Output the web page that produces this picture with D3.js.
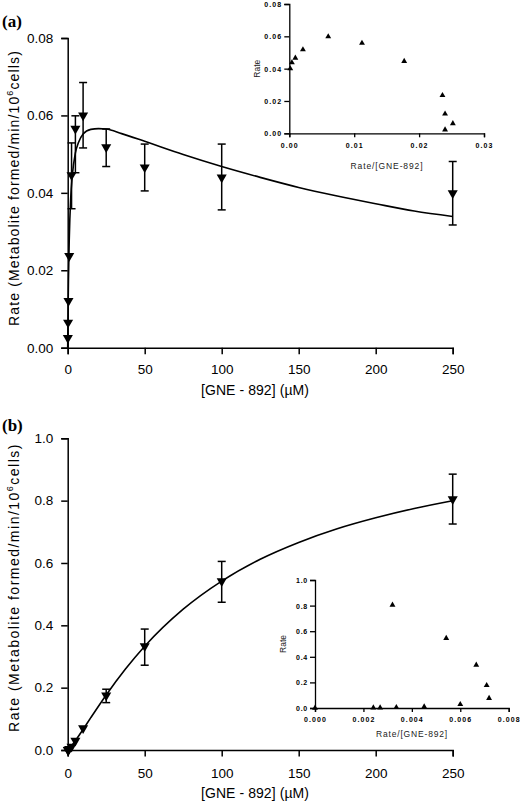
<!DOCTYPE html>
<html><head><meta charset="utf-8">
<script src="https://cdn.jsdelivr.net/npm/d3@7"></script>
<style>body{margin:0;background:#fff} svg{display:block}</style>
</head><body><svg id="c" width="520" height="803"></svg>
<script>
// ---------- data ----------
const conc = [0.1, 0.25, 0.5, 1, 2.5, 5, 10, 25, 50, 100, 250];
// panel (a)
const rateA   = [0.0025, 0.0065, 0.0121, 0.0237, 0.0446, 0.0566, 0.0600, 0.0518, 0.0466, 0.0440, 0.0399];
const errLoA  = [null, null, null, null, 0.0359, 0.0452, 0.0516, 0.0468, 0.0405, 0.0356, 0.0317];
const errHiA  = [null, null, null, null, 0.0529, 0.0599, 0.0685, 0.0565, 0.0526, 0.0526, 0.0481];
const fitAx   = [0, 0.1, 0.25, 0.5, 1, 2, 3, 5, 7, 10, 15, 20, 25, 35, 50, 75, 100, 125, 150, 175, 200, 225, 250];
const fitAy   = [0, 0.0046, 0.0103, 0.0178, 0.0279, 0.039, 0.0445, 0.0503, 0.053, 0.0552, 0.0564, 0.0566, 0.0565, 0.0553, 0.0533, 0.0499, 0.0468, 0.044, 0.0414, 0.0392, 0.0372, 0.0353, 0.0339];
const insetAx = [0.00015, 0.0004, 0.00093, 0.0021, 0.0060, 0.0112, 0.0177, 0.0236, 0.0240, 0.0252, 0.0240];
const insetAy = [0.040, 0.0437, 0.0466, 0.0518, 0.0598, 0.0558, 0.0446, 0.0235, 0.0120, 0.0061, 0.0022];
// panel (b)
const rateB   = [0.0, 0.0006, 0.0014, 0.0034, 0.011, 0.030, 0.070, 0.175, 0.333, 0.542, 0.805];
const errLoB  = [null, null, null, null, null, null, null, 0.152, 0.272, 0.474, 0.725];
const errHiB  = [null, null, null, null, null, null, null, 0.195, 0.388, 0.605, 0.885];
const fitBx   = [0, 1, 2.5, 5, 10, 15, 25, 37.5, 50, 75, 100, 125, 150, 175, 200, 225, 250];
const fitBy   = [0, 0.0044, 0.0132, 0.0299, 0.0662, 0.1037, 0.1766, 0.2597, 0.333, 0.4518, 0.542, 0.612, 0.666, 0.7098, 0.745, 0.775, 0.80];
const insetBx = [0, 0.00241, 0.00269, 0.00336, 0.00451, 0.0060, 0.00719, 0.00709, 0.00666, 0.00542, 0.0032];
const insetBy = [0, 0.002, 0.002, 0.005, 0.010, 0.029, 0.076, 0.177, 0.336, 0.545, 0.805];
// tick labels
const xTicks = [0, 50, 100, 150, 200, 250];
const yTicksA = [0, 0.02, 0.04, 0.06, 0.08];
const yTicksB = [0, 0.2, 0.4, 0.6, 0.8, 1.0];
const insetAxTicks = [0, 0.01, 0.02, 0.03];
const insetAyTicks = [0, 0.02, 0.04, 0.06, 0.08];
const insetBxTicks = [0, 0.002, 0.004, 0.006, 0.008];
const insetByTicks = [0, 0.2, 0.4, 0.6, 0.8, 1.0];
const xTitle = "[GNE - 892] (\u00B5M)";
const insetXTitle = "Rate/[GNE-892]";
const insetYTitle = "Rate";

// ---------- drawing ----------
const svg = d3.select('#c');
const SANS = "'Liberation Sans', Arial, Helvetica, sans-serif";

function fit(sel, target){
  const n = sel.node();
  const len = n.getComputedTextLength();
  const chars = n.textContent.length;
  sel.attr('letter-spacing', ((target - len) / chars).toFixed(2) + 'px');
}

function styleAxis(g, sw, fs, bold){
  g.select('.domain').attr('stroke', '#000').attr('stroke-width', sw);
  g.selectAll('.tick line').attr('stroke', '#000').attr('stroke-width', sw);
  g.selectAll('.tick text').attr('fill', '#000').attr('font-family', SANS)
    .attr('font-size', fs).attr('font-weight', bold ? 'bold' : 'normal');
  g.attr('font-family', null).attr('font-size', null);
}

function mainPanel(o){
  const {x, y, yTicks, yFmt, rate, lo, hi, fx, fy, label, labelY, tickBase, titleBase, yTitleCenter, yTitleLen} = o;
  const gx = svg.append('g').attr('transform', `translate(0,${y(0)})`)
    .call(d3.axisBottom(x).tickValues(xTicks).tickFormat(d3.format('d')).tickSizeOuter(0).tickSize(6.5));
  styleAxis(gx, 1.5, '13.5px', false);
  gx.selectAll('.tick text').attr('dy', 0).attr('y', tickBase - y(0));
  const gy = svg.append('g').attr('transform', `translate(${x(0)},0)`)
    .call(d3.axisLeft(y).tickValues(yTicks).tickFormat(d3.format(yFmt)).tickSizeOuter(0).tickSize(6.5));
  styleAxis(gy, 1.5, '13.5px', false);
  gy.selectAll('.tick text').attr('x', -14.5);

  // fitted curve
  const pts = fx.map((v, i) => [v, fy[i]]);
  svg.append('path').attr('d', d3.line().x(d => x(d[0])).y(d => y(d[1])).curve(d3.curveMonotoneX)(pts))
    .attr('fill', 'none').attr('stroke', '#000').attr('stroke-width', 1.6);

  // error bars
  const eb = svg.append('g').attr('stroke', '#000').attr('stroke-width', 1.5);
  conc.forEach((c, i) => {
    if (lo[i] == null) return;
    const cx = x(c);
    eb.append('line').attr('x1', cx).attr('x2', cx).attr('y1', y(lo[i])).attr('y2', y(hi[i]));
    eb.append('line').attr('x1', cx - 4).attr('x2', cx + 4).attr('y1', y(lo[i])).attr('y2', y(lo[i]));
    eb.append('line').attr('x1', cx - 4).attr('x2', cx + 4).attr('y1', y(hi[i])).attr('y2', y(hi[i]));
  });
  // markers (down triangles)
  const sym = d3.symbol(d3.symbolTriangle, 44);
  svg.append('g').selectAll('path').data(conc).join('path')
    .attr('d', sym).attr('fill', '#000')
    .attr('transform', (c, i) => `translate(${x(c)},${y(rate[i])}) rotate(180)`);

  // titles
  const xt = svg.append('text').attr('x', 255).attr('y', titleBase).attr('text-anchor', 'middle')
    .attr('font-family', SANS).attr('font-size', '14px').text(xTitle);
  fit(xt, 108);
  const yt = svg.append('text').attr('transform', `translate(18.5,${yTitleCenter}) rotate(-90)`)
    .attr('text-anchor', 'middle').attr('font-family', SANS).attr('font-size', '14px');
  yt.append('tspan').text('Rate (Metabolite formed/min/10');
  yt.append('tspan').attr('font-size', '9px').attr('dy', -6).text('6');
  yt.append('tspan').attr('dy', 6).text('cells)');
  fit(yt, yTitleLen);
  svg.append('text').attr('x', 2).attr('y', labelY).attr('font-family', "'Liberation Serif', 'Times New Roman', serif")
    .attr('font-weight', 'bold').attr('font-size', '17px').text(label);
}

function inset(o){
  const {x, y, xt, yt, xFmt, yFmt, xs, ys, xLabBase, xTitleBase, xTitleX, yTitleX, xLabW, yLabW, xTitleW} = o;
  const gx = svg.append('g').attr('transform', `translate(0,${y(0)})`)
    .call(d3.axisBottom(x).tickValues(xt).tickFormat(d3.format(xFmt)).tickSizeOuter(0).tickSize(4));
  styleAxis(gx, 1.3, '7px', true);
  gx.selectAll('.tick text').attr('dy', 0).attr('y', xLabBase - y(0)).each(function(){ fit(d3.select(this), xLabW); });
  const gy = svg.append('g').attr('transform', `translate(${x(0)},0)`)
    .call(d3.axisLeft(y).tickValues(yt).tickFormat(d3.format(yFmt)).tickSizeOuter(0).tickSize(5));
  styleAxis(gy, 1.3, '7px', true);
  gy.selectAll('.tick text').attr('x', -7).attr('dy', '0.35em').each(function(){ fit(d3.select(this), yLabW); });

  const sym = d3.symbol(d3.symbolTriangle, 15);
  svg.append('g').selectAll('path').data(xs).join('path')
    .attr('d', sym).attr('fill', '#000')
    .attr('transform', (v, i) => `translate(${x(v)},${y(ys[i])})`);

  const t = svg.append('text').attr('x', xTitleX).attr('y', xTitleBase).attr('text-anchor', 'middle')
    .attr('font-family', SANS).attr('font-size', '8.5px').attr('fill', '#222').text(insetXTitle);
  fit(t, xTitleW);
  const ymid = (y.range()[0] + y.range()[1]) / 2;
  const r = svg.append('text').attr('transform', `translate(${yTitleX},${ymid}) rotate(-90)`).attr('text-anchor', 'middle')
    .attr('font-family', SANS).attr('font-size', '8.5px').attr('fill', '#222').text(insetYTitle);
  fit(r, 18);
}

// panel (a)
const xA = d3.scaleLinear([0, 250], [67.7, 452.7]);
const yA = d3.scaleLinear([0, 0.08], [347.7, 38]);
mainPanel({x: xA, y: yA, yTicks: yTicksA, yFmt: '.2f', rate: rateA, lo: errLoA, hi: errHiA,
  fx: fitAx, fy: fitAy, label: '(a)', labelY: 27, tickBase: 374.3, titleBase: 395,
  yTitleCenter: 188, yTitleLen: 276});

const xIA = d3.scaleLinear([0, 0.03], [289.3, 484]);
const yIA = d3.scaleLinear([0, 0.08], [133.3, 4]);
inset({x: xIA, y: yIA, xt: insetAxTicks, yt: insetAyTicks, xFmt: '.2f', yFmt: '.2f', xs: insetAx, ys: insetAy,
  xLabBase: 148.5, xTitleBase: 169, xTitleX: 387, yTitleX: 259.5, xLabW: 18, yLabW: 18, xTitleW: 73});

// panel (b)
const xB = d3.scaleLinear([0, 250], [67.7, 452.7]);
const yB = d3.scaleLinear([0, 1], [750, 438.3]);
mainPanel({x: xB, y: yB, yTicks: yTicksB, yFmt: '.1f', rate: rateB, lo: errLoB, hi: errHiB,
  fx: fitBx, fy: fitBy, label: '(b)', labelY: 431, tickBase: 778, titleBase: 798,
  yTitleCenter: 587.5, yTitleLen: 289});

const xIB = d3.scaleLinear([0, 0.008], [315, 508.7]);
const yIB = d3.scaleLinear([0, 1], [708, 580]);
inset({x: xIB, y: yIB, xt: insetBxTicks, yt: insetByTicks, xFmt: '.3f', yFmt: '.1f', xs: insetBx, ys: insetBy,
  xLabBase: 722, xTitleBase: 737, xTitleX: 412, yTitleX: 286, xLabW: 23, yLabW: 12, xTitleW: 72});
</script>
</body></html>
